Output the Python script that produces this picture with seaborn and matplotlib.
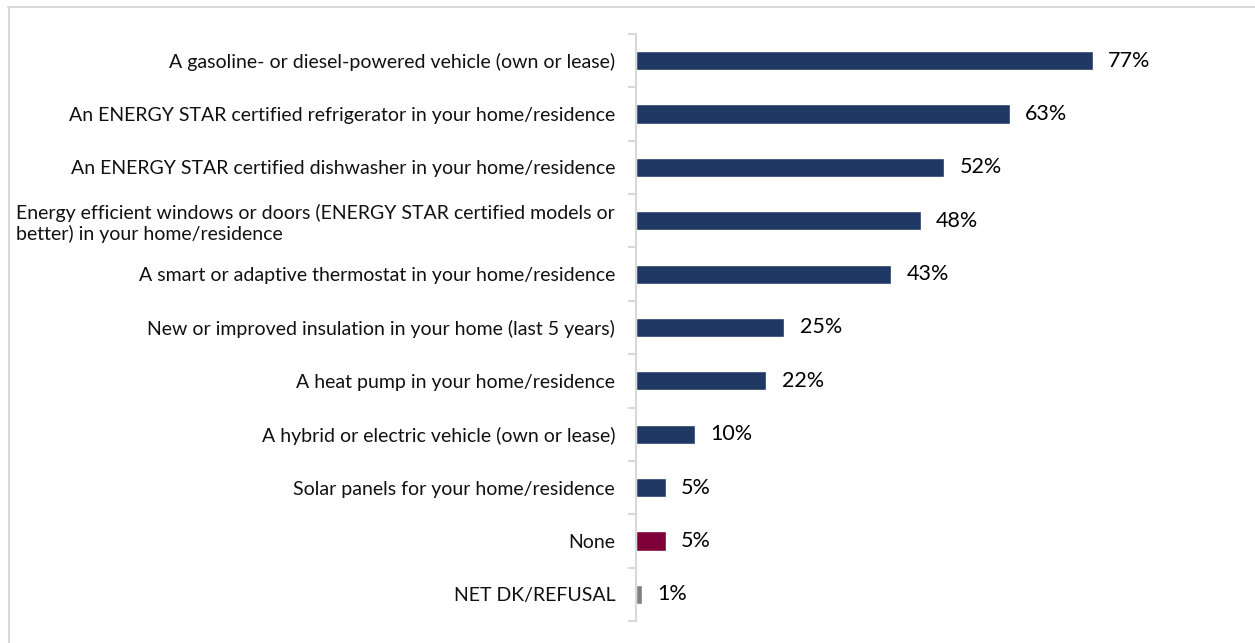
import pandas as pd
import numpy as np
import matplotlib.pyplot as plt
import seaborn as sns
from matplotlib.lines import Line2D

categories = [
    "A gasoline- or diesel-powered vehicle (own or lease)",
    "An ENERGY STAR certified refrigerator in your home/residence",
    "An ENERGY STAR certified dishwasher in your home/residence",
    "Energy efficient windows or doors (ENERGY STAR certified models or\nbetter) in your home/residence",
    "A smart or adaptive thermostat in your home/residence",
    "New or improved insulation in your home (last 5 years)",
    "A heat pump in your home/residence",
    "A hybrid or electric vehicle (own or lease)",
    "Solar panels for your home/residence",
    "None",
    "NET DK/REFUSAL",
]
values = [77, 63, 52, 48, 43, 25, 22, 10, 5, 5, 1]
groups = ["own"] * 9 + ["none", "dk"]
colors = {"own": "#203864", "none": "#7F0038", "dk": "#7F7F7F"}

df = pd.DataFrame({"category": categories, "value": values, "group": groups})

sns.set_style("white")
plt.rcParams['font.family'] = ['Lato', 'DejaVu Sans']

fig = plt.figure(figsize=(12.55, 6.43), dpi=100)
ax = fig.add_axes([636 / 1255, 1 - 621 / 643, (1229 - 636) / 1255, (621 - 34) / 643])

sns.barplot(data=df, y="category", x="value", hue="group", palette=colors,
            dodge=False, legend=False, width=0.36, saturation=1, ax=ax, orient="h")

ax.set_xlim(0, 100)
ax.set_ylim(10.5, -0.5)
ax.set_xlabel("")
ax.set_ylabel("")
ax.set_xticks([])

for i, v in enumerate(values):
    ax.text(v + 2.6, i, f"{v}%", va="center", ha="left", fontsize=15.5, color="#000000")

ax.set_yticks(range(len(categories)))
ax.set_yticklabels(categories, fontsize=14, color="#111111")
for lab in ax.get_yticklabels():
    lab.set_multialignment("left")
ax.set_yticks(np.arange(-0.5, len(categories), 1), minor=True)
ax.tick_params(axis="y", which="major", length=0, pad=15)
ax.tick_params(axis="y", which="minor", length=6, width=1.5, color="#d9d9d9", left=True)

for s in ["top", "right", "bottom"]:
    ax.spines[s].set_visible(False)
ax.spines["left"].set_color("#d9d9d9")
ax.spines["left"].set_linewidth(1.5)

# outer chart border (top and left edges visible)
fig.add_artist(Line2D([8 / 1255, 1], [1 - 6.5 / 643, 1 - 6.5 / 643], transform=fig.transFigure,
                      color="#d9d9d9", lw=1.5))
fig.add_artist(Line2D([8.5 / 1255, 8.5 / 1255], [0, 1 - 6.5 / 643], transform=fig.transFigure,
                      color="#d9d9d9", lw=1.5))

fig.savefig("out.png", dpi=100)
